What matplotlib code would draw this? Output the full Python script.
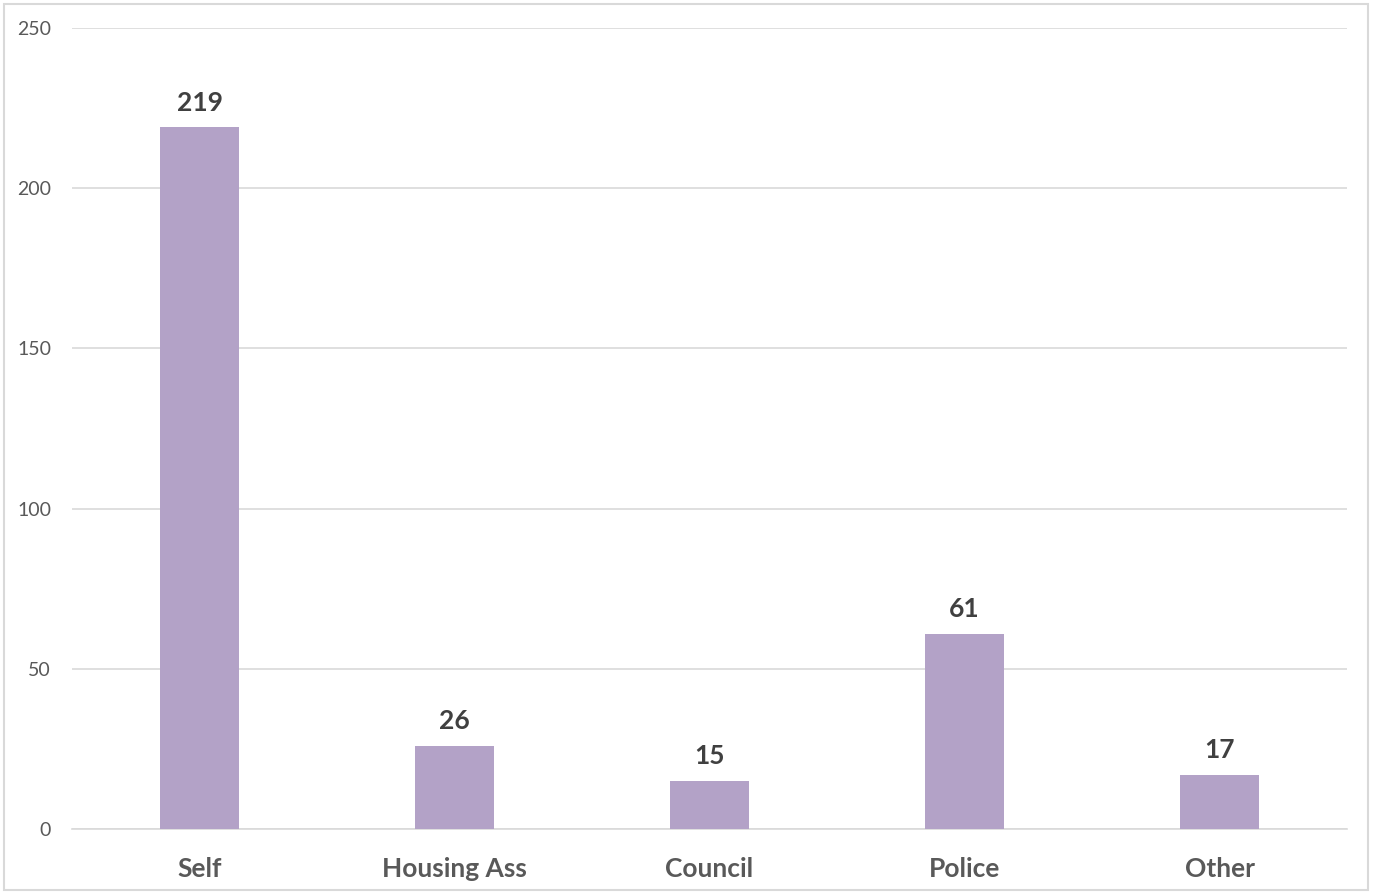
import matplotlib
matplotlib.use("Agg")
import matplotlib.pyplot as plt
from matplotlib.patches import Rectangle

categories = ["Self", "Housing Ass", "Council", "Police", "Other"]
values = [219, 26, 15, 61, 17]
yticks = [0, 50, 100, 150, 200, 250]

plt.rcParams['font.family'] = ['Lato', 'DejaVu Sans']

fig = plt.figure(figsize=(13.73, 8.94), dpi=100)
ax = fig.add_axes([72/1373, 1 - 829/894, 1275/1373, 801/894])

x = list(range(len(categories)))
ax.bar(x, values, width=0.31, color="#B3A2C7", zorder=3)
for xi, v in zip(x, values):
    ax.annotate(str(v), (xi, v), xytext=(0, 9), textcoords="offset points",
                ha="center", va="bottom", fontsize=19, fontweight="bold", color="#404040")

ax.set_xlim(-0.5, len(categories) - 0.5)
ax.set_ylim(0, 250)
ax.set_yticks(yticks)
ax.set_xticks(x)
ax.set_xticklabels(categories, fontsize=19, fontweight="bold", color="#595959")
ax.tick_params(axis="y", labelsize=14, labelcolor="#595959", length=0, pad=15)
ax.tick_params(axis="x", length=0, pad=20)
ax.grid(axis="y", color="#D9D9D9", linewidth=1.2, zorder=0)
for s in ["top", "right", "left"]:
    ax.spines[s].set_visible(False)
ax.spines["bottom"].set_color("#D9D9D9")
ax.spines["bottom"].set_linewidth(1.2)

fig.patches.append(Rectangle((4/1373, 4/894), 1364/1373, 886/894, transform=fig.transFigure,
                             fill=False, edgecolor="#D9D9D9", linewidth=1.5))

fig.savefig("out.png", dpi=100)
